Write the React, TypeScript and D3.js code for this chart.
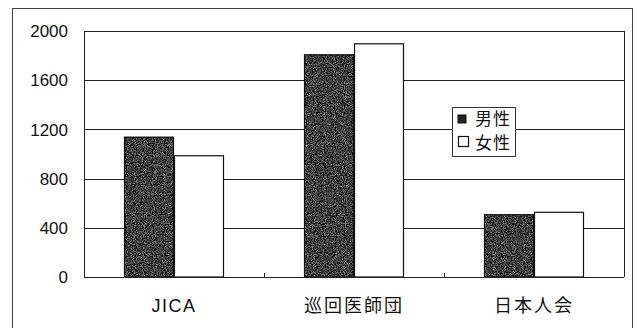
import React from "react";
import * as d3 from "d3";

const categories = ["JICA", "巡回医師団", "日本人会"];
const seriesNames = ["男性", "女性"];
const maleValues = [1140, 1810, 510];
const femaleValues = [990, 1900, 530];
const yTicks = [0, 400, 800, 1200, 1600, 2000];

const W = 637;
const H = 328;
const plot = { left: 84, top: 31, right: 624, bottom: 277 };

const numFont = "'Liberation Sans', Arial, sans-serif";
const cjkFont = "'Noto Sans CJK JP', 'Liberation Sans', sans-serif";

export default function App() {
  const x = d3
    .scaleBand<string>()
    .domain(categories)
    .range([plot.left, plot.right])
    .paddingInner(0)
    .paddingOuter(0);
  const inner = d3
    .scaleBand<string>()
    .domain(seriesNames)
    .range([40, x.bandwidth() - 40]);
  const y = d3.scaleLinear().domain([0, 2000]).range([plot.bottom, plot.top]);

  const series = [
    { name: seriesNames[0], values: maleValues, dark: true },
    { name: seriesNames[1], values: femaleValues, dark: false },
  ];

  return (
    <svg
      width={W}
      height={H}
      style={{ position: "absolute", left: 0, top: 0, background: "#fff" }}
    >
      <defs>
        <filter
          id="grain"
          x="0"
          y="0"
          width="1"
          height="1"
          colorInterpolationFilters="sRGB"
        >
          <feTurbulence
            type="fractalNoise"
            baseFrequency="1.1"
            numOctaves="1"
            seed="7"
            result="noise"
          />
          <feColorMatrix in="noise" type="saturate" values="0" result="gray" />
          <feComponentTransfer in="gray" result="dark">
            <feFuncR type="linear" slope="1.8" intercept="-0.66" />
            <feFuncG type="linear" slope="1.8" intercept="-0.66" />
            <feFuncB type="linear" slope="1.8" intercept="-0.66" />
            <feFuncA type="linear" slope="0" intercept="1" />
          </feComponentTransfer>
          <feComposite in="dark" in2="SourceAlpha" operator="in" />
        </filter>
      </defs>

      {/* outer frame */}
      <rect
        x={12.5}
        y={8.5}
        width={620}
        height={330}
        fill="none"
        stroke="#444"
        strokeWidth={1}
      />

      {/* gridlines */}
      {yTicks.map((t) => (
        <line
          key={t}
          x1={plot.left}
          x2={plot.right}
          y1={Math.round(y(t)) + 0.5}
          y2={Math.round(y(t)) + 0.5}
          stroke="#222"
          strokeWidth={1}
        />
      ))}
      {/* plot area sides */}
      <line x1={plot.left + 0.5} x2={plot.left + 0.5} y1={plot.top} y2={plot.bottom} stroke="#222" />
      <line x1={plot.right + 0.5} x2={plot.right + 0.5} y1={plot.top} y2={plot.bottom} stroke="#222" />

      {/* category separator ticks */}
      {categories.slice(1).map((c) => (
        <line
          key={c}
          x1={(x(c) as number) + 0.5}
          x2={(x(c) as number) + 0.5}
          y1={plot.bottom - 4}
          y2={plot.bottom}
          stroke="#222"
        />
      ))}

      {/* bars */}
      {series.map((s) =>
        categories.map((c, i) => {
          const bx = (x(c) as number) + (inner(s.name) as number);
          const by = y(s.values[i]);
          const bw = inner.bandwidth();
          const bh = plot.bottom - by;
          return (
            <g key={s.name + c}>
              <rect
                x={bx}
                y={by}
                width={bw}
                height={bh}
                fill={s.dark ? "#222" : "#fff"}
                filter={s.dark ? "url(#grain)" : undefined}
              />
              <rect
                x={bx + 0.5}
                y={by + 0.5}
                width={bw - 1}
                height={bh - 0.5}
                fill="none"
                stroke="#111"
                strokeWidth={1.2}
              />
            </g>
          );
        })
      )}

      {/* baseline */}
      <line
        x1={plot.left}
        x2={plot.right}
        y1={plot.bottom + 0.5}
        y2={plot.bottom + 0.5}
        stroke="#222"
        strokeWidth={1.2}
      />

      {/* y tick labels */}
      {yTicks.map((t) => (
        <text
          key={t}
          x={68}
          y={y(t)}
          dy="0.36em"
          textAnchor="end"
          fontFamily={numFont}
          fontSize={17}
          fill="#111"
        >
          {t}
        </text>
      ))}

      {/* category labels */}
      {categories.map((c) => (
        <text
          key={c}
          x={(x(c) as number) + x.bandwidth() / 2}
          y={312}
          textAnchor="middle"
          fontFamily={c === "JICA" ? numFont : cjkFont}
          fontSize={18}
          letterSpacing={c === "JICA" ? 1.5 : 2}
          fill="#111"
        >
          {c}
        </text>
      ))}

      {/* legend */}
      <g>
        <rect x={452.5} y={107.5} width={63} height={49} fill="#fff" stroke="#333" strokeWidth={1} />
        <rect x={458} y={115} width={8} height={8} fill="#222" stroke="#111" />
        <rect x={458.5} y={136.5} width={10} height={10} fill="#fff" stroke="#111" strokeWidth={1.2} />
        <text x={475} y={119} dy="0.36em" fontFamily={cjkFont} fontSize={17} letterSpacing={1} fill="#111">
          {seriesNames[0]}
        </text>
        <text x={475} y={143} dy="0.36em" fontFamily={cjkFont} fontSize={17} letterSpacing={1} fill="#111">
          {seriesNames[1]}
        </text>
      </g>
    </svg>
  );
}
